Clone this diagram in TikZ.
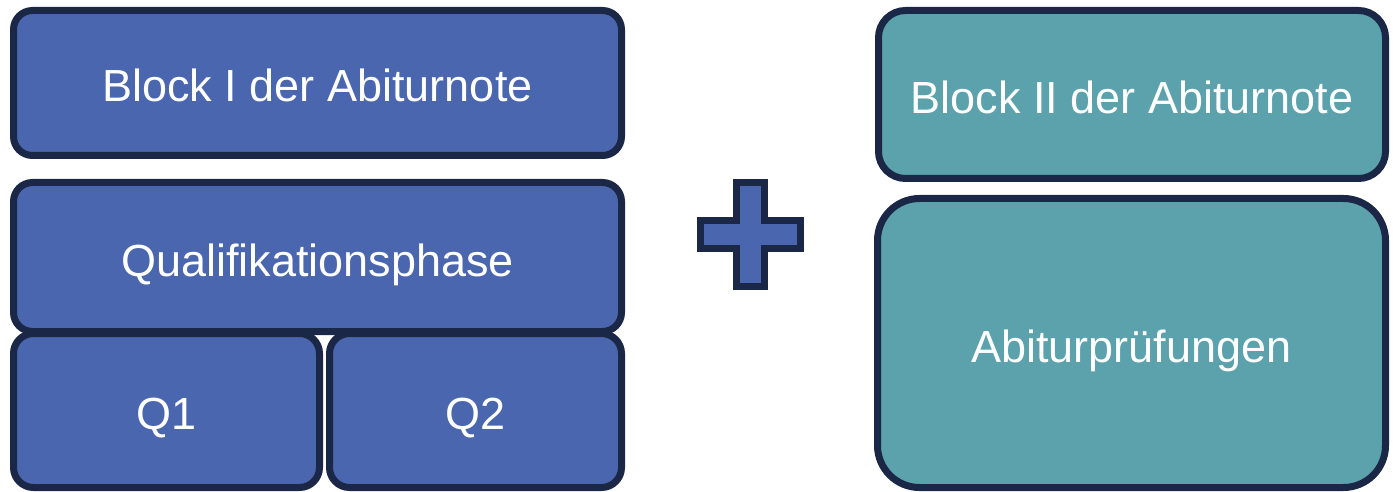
\documentclass[tikz,border=0pt]{standalone}
\usepackage{fontspec}
\setmainfont{Liberation Sans}
\definecolor{bluefill}{HTML}{4A66AE}
\definecolor{tealfill}{HTML}{5BA2AD}
\definecolor{darkline}{HTML}{1B2746}
\begin{document}
\begin{tikzpicture}[x=1pt,y=-1pt,
  box/.style={draw=darkline,line width=7pt,text=white,inner sep=0pt,
    text height=38pt,text depth=0pt,
    font=\fontsize{45}{54}\selectfont},
  bluebox/.style={box,fill=bluefill},
  tealbox/.style={box,fill=tealfill}]
\useasboundingbox (0,0) rectangle (1393,492);
\node[bluebox,rounded corners=19pt,minimum width=608pt,minimum height=145pt] (b1) at (317.5,83) {Block I der Abiturnote};
\node[bluebox,rounded corners=19pt,minimum width=608pt,minimum height=149pt] (qp) at (317.5,257) {Qualifikationsphase};
\node[bluebox,rounded corners=20pt,minimum width=306pt,minimum height=154pt] (q1) at (166.5,410.5) {Q1};
\node[bluebox,rounded corners=20pt,minimum width=292pt,minimum height=154pt] (q2) at (475.5,410.5) {Q2};
\node[tealbox,rounded corners=27pt,minimum width=507pt,minimum height=168pt] (b2) at (1132,94.5) {Block II der Abiturnote};
\node[tealbox,rounded corners=42pt,minimum width=508pt,minimum height=289pt] (ap) at (1131.5,343) {Abiturprüfungen};
\draw[draw=darkline,fill=bluefill,line width=7pt]
  (736.5,182.5) -- (764.5,182.5) -- (764.5,220.5) -- (800.5,220.5) -- (800.5,248.5)
  -- (764.5,248.5) -- (764.5,286.5) -- (736.5,286.5) -- (736.5,248.5) -- (700.5,248.5)
  -- (700.5,220.5) -- (736.5,220.5) -- cycle;
\end{tikzpicture}
\end{document}
